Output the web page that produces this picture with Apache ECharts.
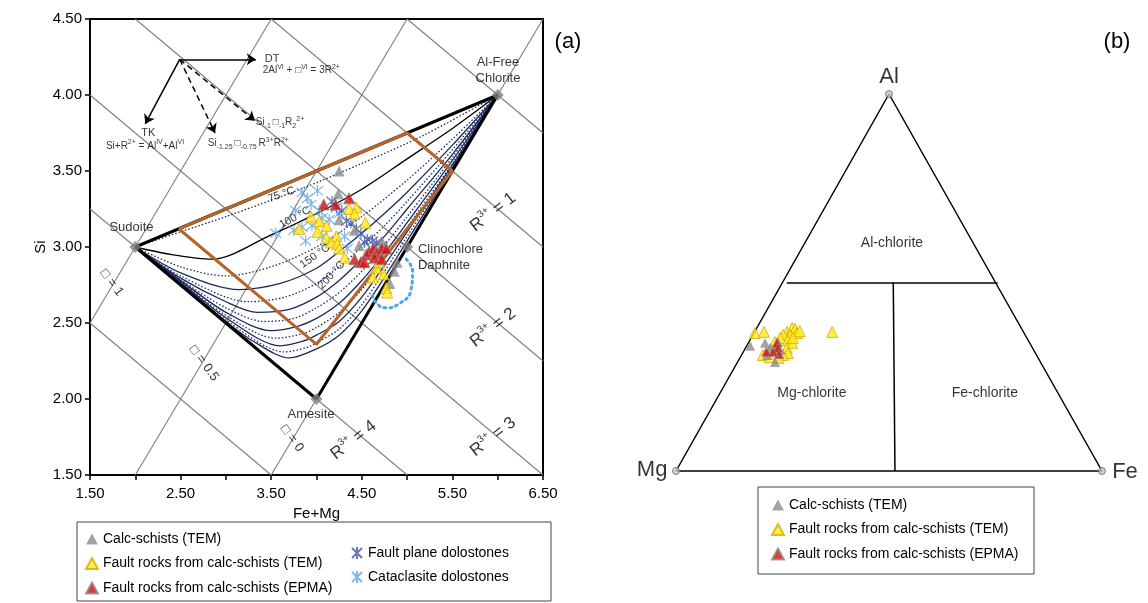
<!DOCTYPE html>
<html>
<head>
<meta charset="utf-8">
<script src="https://cdn.jsdelivr.net/npm/echarts@6/dist/echarts.min.js"></script>
<style>
html,body{margin:0;padding:0;background:#fff}
#chart{width:1148px;height:603px}
</style>
</head>
<body>
<div id="chart"></div>
<script>
const F = "'Liberation Sans', Arial, sans-serif";

// ---- panel (a): Si vs Fe+Mg ----
const xTickLabels = ['1.50', '2.50', '3.50', '4.50', '5.50', '6.50'];
const yTickLabels = ['1.50', '2.00', '2.50', '3.00', '3.50', '4.00', '4.50'];

const endMembers = [[2, 3], [4, 2], [6, 4], [5, 3]];   // Sudoite, Amesite, Al-free, Clinochlore

// R3+ = 0..5 and vacancy = 1, 0.5, 0 reference lines
const r3Lines = [
  [[5, 4.5], [6.5, 3.75]], [[3.5, 4.5], [6.5, 3.0]], [[2, 4.5], [6.5, 2.25]],
  [[1.5, 4], [6.5, 1.5]], [[1.5, 3.25], [5, 1.5]], [[1.5, 2.5], [3.5, 1.5]]
];
const vacLines = [[[1.5, 2.5], [3.5, 4.5]], [[2, 1.5], [5, 4.5]], [[3.5, 1.5], [6.5, 4.5]]];

const boundary = [[[2, 3], [6, 4]], [[2, 3], [4, 2]], [[4, 2], [6, 4]]];
const brownBox = [[2.48, 3.12], [5.0, 3.75], [5.5, 3.5], [4.0, 2.36], [2.48, 3.12]];

// isotherm curves
const isotherms = [
  [[2, 3], [2.5, 3.1], [3, 3.2], [3.84, 3.385], [4.5, 3.55], [5.2, 3.74], [6, 4]],
  [[2, 3], [2.4, 2.95], [2.85, 2.92], [3.5, 3.08], [4.0, 3.22], [4.5, 3.38], [5, 3.58], [5.5, 3.78], [6, 4]],
  [[2, 3], [2.5, 2.87], [3.0, 2.81], [3.5, 2.87], [4.0, 3.0], [4.5, 3.2], [5, 3.44], [5.5, 3.71], [6, 4]],
  [[2, 3], [2.5, 2.83], [3.15, 2.72], [3.6, 2.76], [4.0, 2.86], [4.25, 2.97], [4.5, 3.09], [4.75, 3.22], [5, 3.36], [5.5, 3.67], [6, 4]],
  [[2, 3], [2.5, 2.81], [3.25, 2.64], [3.65, 2.67], [4.0, 2.76], [4.25, 2.87], [4.5, 3.0], [4.75, 3.14], [5, 3.3], [5.5, 3.64], [6, 4]],
  [[2, 3], [2.5, 2.795], [3.0, 2.64], [3.35, 2.57], [3.7, 2.59], [4.0, 2.67], [4.25, 2.78], [4.5, 2.92], [4.75, 3.07], [5, 3.25], [5.5, 3.61], [6, 4]],
  [[2, 3], [2.5, 2.785], [3.0, 2.6], [3.42, 2.51], [3.75, 2.53], [4.0, 2.6], [4.25, 2.7], [4.5, 2.84], [4.75, 3.01], [5, 3.2], [5.5, 3.59], [6, 4]],
  [[2, 3], [2.5, 2.78], [3.0, 2.57], [3.5, 2.45], [3.8, 2.48], [4.0, 2.53], [4.25, 2.63], [4.5, 2.78], [4.75, 2.96], [5, 3.16], [5.5, 3.57], [6, 4]],
  [[2, 3], [2.5, 2.775], [3.0, 2.55], [3.55, 2.40], [3.85, 2.43], [4.0, 2.47], [4.25, 2.57], [4.5, 2.72], [4.75, 2.92], [5, 3.13], [5.5, 3.55], [6, 4]],
  [[2, 3], [2.5, 2.77], [3.0, 2.535], [3.6, 2.35], [3.85, 2.38], [4.0, 2.42], [4.25, 2.51], [4.5, 2.67], [4.75, 2.88], [5, 3.10], [5.5, 3.54], [6, 4]],
  [[2, 3], [2.5, 2.765], [3.0, 2.52], [3.65, 2.31], [3.9, 2.34], [4.0, 2.37], [4.25, 2.46], [4.5, 2.62], [4.75, 2.84], [5, 3.07], [5.5, 3.53], [6, 4]],
  [[2, 3], [2.5, 2.76], [3.0, 2.51], [3.3, 2.38], [3.7, 2.27], [4.0, 2.33], [4.25, 2.42], [4.5, 2.58], [4.75, 2.80], [5, 3.04], [5.5, 3.52], [6, 4]]
];
const isoKinds = ['dotted', 'black', 'dotted', 'navy', 'dotted', 'navy', 'dotted', 'navy', 'dotted', 'navy', 'dotted', 'navy'];

const calcSchistsA = [[4.25, 3.50], [4.24, 3.35], [4.25, 3.18], [4.42, 3.11], [4.72, 3.04], [4.89, 2.90], [4.86, 2.84], [4.81, 2.76], [4.47, 3.01]];
const faultTemA = [[4.44, 3.26], [4.36, 3.25], [4.42, 3.22], [4.03, 3.17], [4.11, 3.14], [4.01, 3.10], [4.11, 3.06], [4.22, 3.07], [4.16, 3.03], [4.23, 3.02], [4.25, 2.99], [4.31, 2.93], [4.66, 2.86], [4.62, 2.80], [4.77, 2.73], [4.78, 2.70], [3.81, 3.12], [3.94, 3.20], [4.54, 3.16], [4.69, 2.90], [4.74, 2.82]];
const faultEpmaA = [[4.08, 3.28], [4.21, 3.28], [4.36, 3.32], [4.42, 2.92], [4.49, 2.90], [4.55, 2.95], [4.58, 2.97], [4.63, 2.99], [4.67, 2.96], [4.72, 2.99], [4.77, 2.99], [4.64, 2.93], [4.72, 2.92], [4.53, 2.90]];
const faultPlane = [[4.22, 3.26], [4.28, 3.24], [4.33, 3.17], [4.38, 3.16], [4.49, 3.09], [4.56, 3.05], [4.53, 3.03], [4.66, 3.03], [4.72, 3.01], [4.62, 3.04], [4.44, 3.12], [4.17, 3.30]];
const cataclasite = [[3.55, 3.09], [3.84, 3.36], [3.90, 3.32], [3.94, 3.28], [4.03, 3.24], [4.06, 3.19], [4.14, 3.18], [3.95, 3.14], [3.75, 3.11], [3.84, 3.13], [4.06, 3.07], [3.88, 3.04], [4.14, 3.03], [4.31, 3.07], [4.34, 2.99], [4.25, 3.22], [4.01, 3.37], [3.77, 3.24]];
const dottedArc = [[4.99, 2.92], [5.06, 2.84], [5.04, 2.71], [4.92, 2.63], [4.77, 2.60], [4.66, 2.63], [4.62, 2.68]];

const arrowSolid = [[[2.49, 4.235], [3.33, 4.235]], [[2.49, 4.235], [2.11, 3.81]]];
const arrowDashed = [[[2.49, 4.235], [2.88, 3.75]], [[2.49, 4.235], [3.32, 3.83]]];

// ---- panel (b): ternary Al - Mg - Fe, values as [Al %, Fe %] ----
const ternYellow = [[36.6, 0.2], [36.9, 2.2], [36.9, 7.6], [37.9, 8.3], [37.7, 9.1], [36.6, 10.1], [36.1, 8.7], [36.1, 7.1], [35.3, 6.8], [34.2, 6.1], [34.7, 8.9], [34.0, 10.3], [32.6, 9.7], [31.3, 10.6], [30.8, 9.7], [36.9, 18.2], [30.8, 5.0], [30.0, 9.0], [30.2, 6.9], [35.3, 9.8], [37.1, 10.5], [32.4, 6.1]];
const ternGray = [[33.2, 0.8], [34.0, 3.9], [34.2, 6.8], [32.6, 5.8], [28.9, 8.8], [30.8, 6.0], [32.1, 8.4], [32.9, 7.3]];
const ternRed = [[34.0, 6.7], [32.6, 7.6], [31.6, 5.4], [31.0, 8.7], [31.6, 7.0]];

const names = ['Calc-schists (TEM)', 'Fault rocks from calc-schists (TEM)', 'Fault rocks from calc-schists (EPMA)'];
const names2 = ['Fault plane dolostones', 'Cataclasite dolostones'];

const tern = d => [d[1] / 100 + d[0] / 200, d[0] / 100];
const STAR = 'path://M0,0L10,10M10,0L0,10M5,-1L5,11';

const gray = {color: '#8c8c8c'};
const yellow = {color: '#ffeb1f', borderColor: '#d9a900', borderWidth: 1};
const red = {color: '#e00a0a', borderColor: '#8a8a8a', borderWidth: 1};

function lab(pos, text, extra) {
  return {value: pos, label: Object.assign({formatter: text}, extra || {})};
}

const rich = {
  a: {fontSize: 10, lineHeight: 14, fontFamily: F, color: '#000'},
  as: {fontSize: 7, lineHeight: 14, verticalAlign: 'top', fontFamily: F, color: '#000'},
  ab: {fontSize: 7, lineHeight: 14, verticalAlign: 'bottom', fontFamily: F, color: '#000'},
  r: {fontSize: 17, lineHeight: 22, fontFamily: F, color: '#000'},
  rs: {fontSize: 10, lineHeight: 22, verticalAlign: 'top', fontFamily: F, color: '#000'}
};

const labelsA = [
  lab([1.958, 3.13], 'Sudoite'),
  lab([3.94, 1.90], 'Amesite'),
  lab([6.003, 4.164], 'Al-Free\nChlorite', {lineHeight: 16}),
  lab([5.12, 2.934], 'Clinochlore\nDaphnite', {align: 'left', lineHeight: 16}),
  lab([3.614, 3.345], '75 °C', {fontSize: 11, rotate: 20}),
  lab([3.763, 3.194], '100 °C', {fontSize: 11, rotate: 29}),
  lab([3.983, 2.94], '150 °C', {fontSize: 11, rotate: 35}),
  lab([4.166, 2.816], '200 °C', {fontSize: 11, rotate: 47}),
  lab([3.43, 4.24], 'DT', {fontSize: 11, align: 'left'}),
  lab([3.406, 4.16], '{a|2Al}{as|VI}{a| + □}{as|VI}{a| = 3R}{as|2+}', {align: 'left'}),
  lab([3.33, 3.818], '{a|Si}{ab|-1 }{a|□}{ab|-1}{a|R}{ab|2}{as|2+}', {align: 'left'}),
  lab([2.144, 3.752], 'TK', {fontSize: 11}),
  lab([2.107, 3.666], '{a|Si+R}{as|2+}{a| = Al}{as|IV}{a|+Al}{as|VI}'),
  lab([2.80, 3.68], '{a|Si}{ab|-1.25 }{a|□}{ab|-0.75 }{a|R}{as|3+}{a|R}{as|2+}', {align: 'left'}),
  lab([5.95, 3.23], '{r|R}{rs|3+}{r| = 1}', {rotate: 38}),
  lab([5.95, 2.47], '{r|R}{rs|3+}{r| = 2}', {rotate: 38}),
  lab([5.95, 1.75], '{r|R}{rs|3+}{r| = 3}', {rotate: 38}),
  lab([4.41, 1.73], '{r|R}{rs|3+}{r| = 4}', {rotate: 38}),
  lab([1.74, 2.765], '□ = 1', {rotate: -54}),
  lab([2.758, 2.235], '□ = 0.5', {rotate: -54}),
  lab([3.73, 1.74], '□ = 0', {rotate: -54})
];

const labelsB = [
  lab([0.5, 1.045], 'Al', {fontSize: 22}),
  lab([-0.056, 0.003], 'Mg', {fontSize: 22}),
  lab([1.054, -0.003], 'Fe', {fontSize: 22}),
  lab([0.507, 0.605], 'Al-chlorite'),
  lab([0.319, 0.207], 'Mg-chlorite'),
  lab([0.725, 0.207], 'Fe-chlorite')
];

const chart = echarts.init(document.getElementById('chart'));

const series = [];
const A = {xAxisIndex: 0, yAxisIndex: 0};
const B = {xAxisIndex: 1, yAxisIndex: 1};

series.push(Object.assign({
  type: 'lines', coordinateSystem: 'cartesian2d', silent: true, z: 1,
  lineStyle: {color: '#7f7f7f', width: 1.1, opacity: 1},
  data: r3Lines.concat(vacLines).map(c => ({coords: c}))
}, A));

isotherms.forEach((pts, i) => {
  series.push(Object.assign({
    type: 'line', data: pts, smooth: 0.3, showSymbol: false, symbol: 'none',
    silent: true, z: 3,
    lineStyle: {
      width: 1.3,
      color: isoKinds[i] === 'black' ? '#000' : '#1b2a5c',
      type: isoKinds[i] === 'dotted' ? [1.5, 2] : 'solid'
    }
  }, A));
});

series.push(Object.assign({
  type: 'lines', coordinateSystem: 'cartesian2d', silent: true, z: 4,
  lineStyle: {color: '#000', width: 3, opacity: 1},
  data: boundary.map(c => ({coords: c}))
}, A));

series.push(Object.assign({
  type: 'line', data: brownBox, showSymbol: false, symbol: 'none', silent: true, z: 5,
  lineStyle: {color: '#b5652a', width: 3}
}, A));

series.push(Object.assign({
  type: 'line', data: dottedArc, smooth: 0.5, showSymbol: false, symbol: 'none', silent: true, z: 5,
  lineStyle: {color: '#4fa6e6', width: 3, type: [2, 4], cap: 'round'}
}, A));

series.push(Object.assign({
  type: 'lines', coordinateSystem: 'cartesian2d', silent: true, z: 6,
  symbol: ['none', 'arrow'], symbolSize: 9,
  lineStyle: {color: '#000', width: 1.5, opacity: 1},
  data: arrowSolid.map(c => ({coords: c}))
}, A));
series.push(Object.assign({
  type: 'lines', coordinateSystem: 'cartesian2d', silent: true, z: 6,
  symbol: ['none', 'arrow'], symbolSize: 9,
  lineStyle: {color: '#000', width: 1.5, type: [6, 4], opacity: 1},
  data: arrowDashed.map(c => ({coords: c}))
}, A));

series.push(Object.assign({
  type: 'scatter', data: endMembers, symbol: 'diamond', symbolSize: 12, silent: true, z: 7,
  itemStyle: {color: '#808080'}
}, A));

series.push(Object.assign({
  name: names2[1], type: 'scatter', data: cataclasite, symbol: STAR, symbolSize: 11, z: 8,
  itemStyle: {color: 'rgba(0,0,0,0)', borderColor: '#5aa6e6', borderWidth: 1.2}
}, A));
series.push(Object.assign({
  name: names2[0], type: 'scatter', data: faultPlane, symbol: STAR, symbolSize: 11, z: 8,
  itemStyle: {color: 'rgba(0,0,0,0)', borderColor: '#3f58a8', borderWidth: 1.2}
}, A));
series.push(Object.assign({
  name: names[0], type: 'scatter', data: calcSchistsA, symbol: 'triangle', symbolSize: 11, z: 9, itemStyle: gray
}, A));
series.push(Object.assign({
  name: names[1], type: 'scatter', data: faultTemA, symbol: 'triangle', symbolSize: 11, z: 9, itemStyle: yellow
}, A));
series.push(Object.assign({
  name: names[2], type: 'scatter', data: faultEpmaA, symbol: 'triangle', symbolSize: 11, z: 10, itemStyle: red
}, A));

series.push(Object.assign({
  type: 'scatter', data: labelsA, symbolSize: 1, silent: true, z: 20,
  itemStyle: {color: 'rgba(0,0,0,0)'},
  label: {show: true, position: 'inside', color: '#000', fontSize: 13, fontFamily: F, rich: rich}
}, A));

// panel (b)
series.push(Object.assign({
  type: 'line', data: [[0, 0], [1, 0], [0.5, 1], [0, 0]], showSymbol: false, symbol: 'none', silent: true, z: 2,
  lineStyle: {color: '#000', width: 1.5}
}, B));
series.push(Object.assign({
  type: 'lines', coordinateSystem: 'cartesian2d', silent: true, z: 2,
  lineStyle: {color: '#000', width: 1.5, opacity: 1},
  data: [{coords: [[0.26, 0.5], [0.755, 0.5]]}, {coords: [[0.51, 0.5], [0.514, 0]]}]
}, B));
series.push(Object.assign({
  type: 'scatter', data: [[0, 0], [1, 0], [0.5, 1]], symbolSize: 7, silent: true, z: 3,
  itemStyle: {color: '#c8c8c8', borderColor: '#666', borderWidth: 1}
}, B));
series.push(Object.assign({
  name: names[1], type: 'scatter', data: ternYellow.map(tern), symbol: 'triangle', symbolSize: 11, z: 8, itemStyle: yellow
}, B));
series.push(Object.assign({
  name: names[0], type: 'scatter', data: ternGray.map(tern), symbol: 'triangle', symbolSize: 10, z: 9, itemStyle: gray
}, B));
series.push(Object.assign({
  name: names[2], type: 'scatter', data: ternRed.map(tern), symbol: 'triangle', symbolSize: 9, z: 10, itemStyle: red
}, B));
series.push(Object.assign({
  type: 'scatter', data: labelsB, symbolSize: 1, silent: true, z: 20,
  itemStyle: {color: 'rgba(0,0,0,0)'},
  label: {show: true, position: 'inside', color: '#000', fontSize: 14, fontFamily: F}
}, B));

const legendText = {fontSize: 14, color: '#000', fontFamily: F};

chart.setOption({
  animation: false,
  backgroundColor: '#fff',
  textStyle: {fontFamily: F},
  grid: [
    {left: 90, top: 19, width: 453, height: 456, show: true, borderColor: '#000', borderWidth: 2, backgroundColor: 'rgba(0,0,0,0)'},
    {left: 633.4, top: 56.3, width: 511.2, height: 452.4}
  ],
  xAxis: [
    {
      gridIndex: 0, type: 'value', min: 1.5, max: 6.5, interval: 0.5,
      name: 'Fe+Mg', nameLocation: 'middle', nameGap: 25,
      nameTextStyle: {fontSize: 15, color: '#000', fontFamily: F},
      axisLine: {lineStyle: {color: '#000', width: 2}},
      axisTick: {length: 5, lineStyle: {color: '#000', width: 1.5}},
      splitLine: {show: false},
      axisLabel: {
        fontSize: 15, color: '#000', margin: 11, fontFamily: F,
        formatter: v => { const s = v.toFixed(2); return xTickLabels.indexOf(s) >= 0 ? s : ''; }
      }
    },
    {gridIndex: 1, type: 'value', min: -0.1, max: 1.1, show: false}
  ],
  yAxis: [
    {
      gridIndex: 0, type: 'value', min: 1.5, max: 4.5, interval: 0.5,
      name: 'Si', nameLocation: 'middle', nameGap: 42, nameRotate: 90,
      nameTextStyle: {fontSize: 15, color: '#000', fontFamily: F},
      axisLine: {lineStyle: {color: '#000', width: 2}},
      axisTick: {length: 5, lineStyle: {color: '#000', width: 1.5}},
      splitLine: {show: false},
      axisLabel: {
        fontSize: 15, color: '#000', margin: 8, fontFamily: F,
        formatter: v => { const s = v.toFixed(2); return yTickLabels.indexOf(s) >= 0 ? s : ''; }
      }
    },
    {gridIndex: 1, type: 'value', min: -0.1, max: 1.1, show: false}
  ],
  legend: [
    {data: names, left: 85, top: 532, orient: 'vertical', itemGap: 10.5, itemWidth: 12, itemHeight: 11,
     padding: 0, selectedMode: false, textStyle: legendText},
    {data: names2, left: 351, top: 546, orient: 'vertical', itemGap: 10, itemWidth: 12, itemHeight: 12,
     padding: 0, selectedMode: false, textStyle: legendText},
    {data: names, left: 771, top: 498, orient: 'vertical', itemGap: 10.5, itemWidth: 12, itemHeight: 11,
     padding: 0, selectedMode: false, textStyle: legendText}
  ],
  graphic: [
    {type: 'rect', shape: {x: 77, y: 522, width: 474, height: 79}, style: {fill: 'none', stroke: '#444', lineWidth: 1}, silent: true},
    {type: 'rect', shape: {x: 758, y: 487, width: 276, height: 87}, style: {fill: 'none', stroke: '#444', lineWidth: 1}, silent: true},
    {type: 'text', x: 568, y: 42, style: {text: '(a)', fontSize: 22, fontFamily: F, fill: '#000', textAlign: 'center', textVerticalAlign: 'middle'}, silent: true},
    {type: 'text', x: 1117, y: 42, style: {text: '(b)', fontSize: 22, fontFamily: F, fill: '#000', textAlign: 'center', textVerticalAlign: 'middle'}, silent: true}
  ],
  series: series
});
</script>
</body>
</html>
